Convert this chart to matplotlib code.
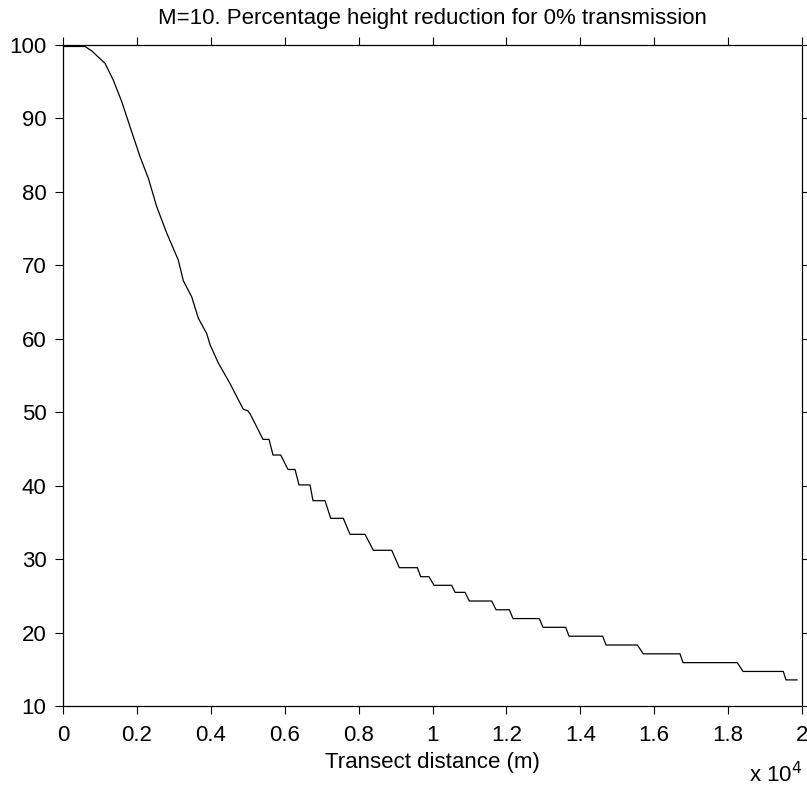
import matplotlib
matplotlib.use("Agg")
import matplotlib.pyplot as plt
import numpy as np

plt.rcParams['font.family'] = ['Liberation Sans', 'DejaVu Sans']

# Smooth upper part of the curve (distance m, percentage)
smooth_x = [0, 595, 776, 1137, 1362, 1588, 1858, 2084, 2309, 2535, 2806, 3121,
            3256, 3483, 3662, 3889, 3978, 4203, 4520, 4744, 4880, 5000, 5061, 5332]
smooth_y = [99.8, 99.8, 99.2, 97.5, 95.2, 92.3, 88.2, 84.8, 81.85, 78.0, 74.4, 70.7,
            67.9, 65.7, 62.8, 60.7, 59.2, 56.7, 53.9, 51.7, 50.4, 50.2, 49.8, 47.1]

# Stepped lower part: step start, step end, level
step_start = [5413, 5683, 6089, 6387, 6766, 7245, 7767, 8398, 9102, 9681, 10041,
              10609, 10996, 11719, 12179, 12991, 13694, 14696, 15705, 16779, 18403, 19567]
step_end = [5575, 5892, 6279, 6685, 7091, 7586, 8173, 8896, 9589, 9905, 10519,
            10880, 11602, 12079, 12890, 13605, 14606, 15543, 16698, 18249, 19494, 19865]
step_level = [46.3, 44.17, 42.2, 40.1, 37.95, 35.55, 33.37, 31.2, 28.83, 27.6, 26.43,
              25.47, 24.29, 23.1, 21.9, 20.71, 19.5, 18.3, 17.1, 15.9, 14.7, 13.55]

xs = list(smooth_x)
ys = list(smooth_y)
for s, e, l in zip(step_start, step_end, step_level):
    xs += [s, e]
    ys += [l, l]

fs = 16
fig = plt.figure(figsize=(8.07, 7.88), dpi=100)
ax = fig.add_axes([0.0781, 0.1041, 0.9157, 0.8388])
ax.plot(xs, ys, color='black', linewidth=0.9)

ax.set_xlim(0, 20000)
ax.set_ylim(10, 100)
xt = np.arange(0, 20001, 2000)
ax.set_xticks(xt)
ax.set_xticklabels(['0', '0.2', '0.4', '0.6', '0.8', '1', '1.2', '1.4', '1.6', '1.8', '2'])
ax.set_yticks(np.arange(10, 101, 10))
ax.tick_params(direction='out', length=6, width=0.8, labelsize=fs,
               top=True, right=True, colors='black')
ax.tick_params(axis='x', pad=8)
ax.tick_params(axis='y', pad=6)
for sp in ax.spines.values():
    sp.set_linewidth(0.9)

ax.set_title('M=10. Percentage height reduction for 0% transmission', fontsize=fs, pad=15)
ax.set_xlabel('Transect distance (m)', fontsize=fs, labelpad=4)
ax.text(1.0, -0.085, r'x 10$^{4}$', transform=ax.transAxes, ha='right', va='top',
        fontsize=fs)

fig.savefig('out.png', dpi=100)
